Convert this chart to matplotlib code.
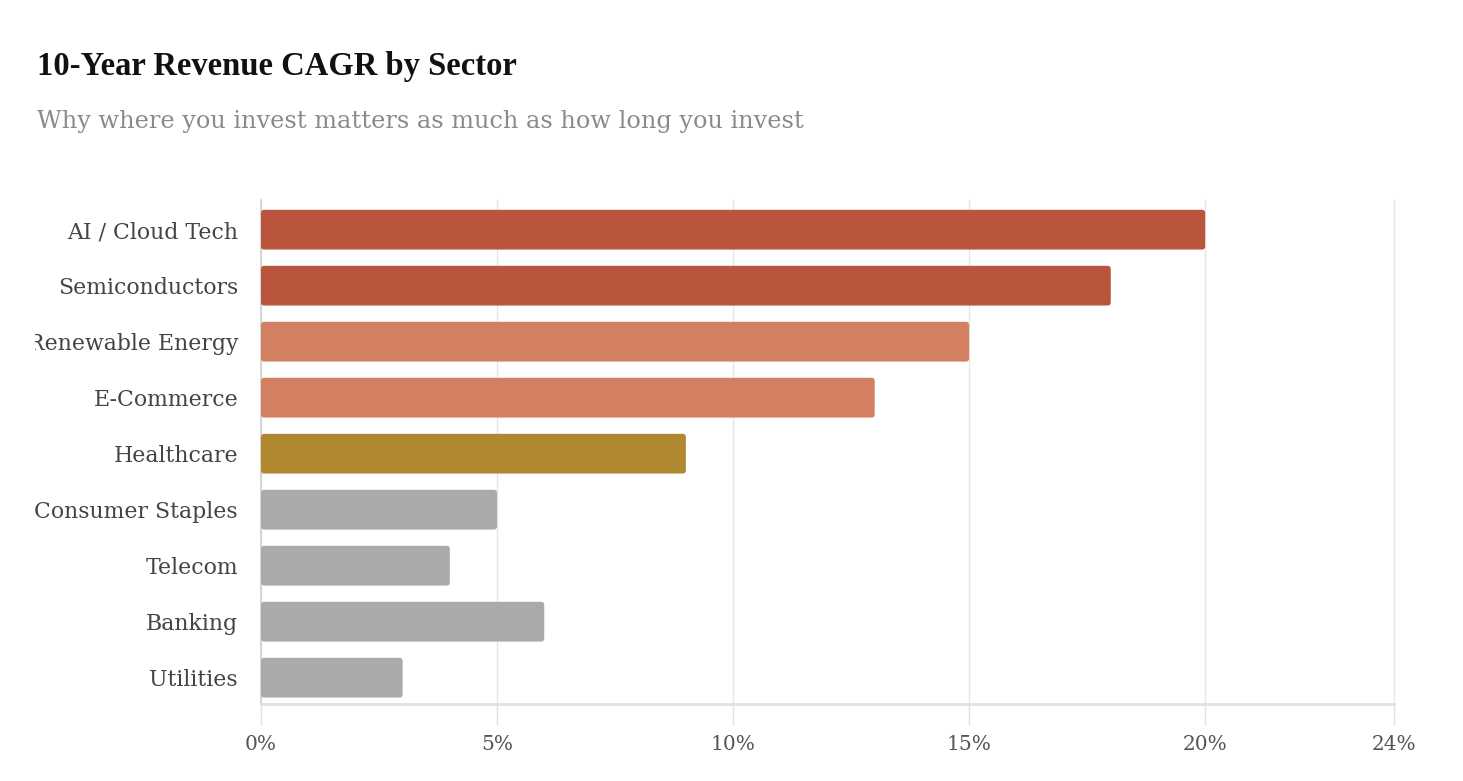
import matplotlib
matplotlib.use("Agg")
import matplotlib.pyplot as plt
from matplotlib.patches import FancyBboxPatch
from matplotlib.transforms import Bbox

# 섹터별 10년 매출 CAGR
sectors = ['AI / Cloud Tech', 'Semiconductors', 'Renewable Energy', 'E-Commerce',
           'Healthcare', 'Consumer Staples', 'Telecom', 'Banking', 'Utilities']
cagr = [20, 18, 15, 13, 9, 5, 4, 6, 3]
bar_colors = ['#B9553D', '#B9553D', '#D38062', '#D38062', '#B08830',
              '#AAAAAA', '#AAAAAA', '#AAAAAA', '#AAAAAA']
xticks = [0, 5, 10, 15, 20, 24]
xtick_labels = ['0%', '5%', '10%', '15%', '20%', '24%']

plt.rcParams['font.family'] = ['DejaVu Serif']

fig = plt.figure(figsize=(14.63, 7.81), dpi=100)
ax = fig.add_axes([261 / 1463, 1 - 704 / 781, (1394 - 261) / 1463, (704 - 200) / 781])

y = list(range(len(sectors)))
bh = 0.71
for yi, v, c in zip(y, cagr, bar_colors):
    p = FancyBboxPatch((0, yi - bh / 2 + 0.03), v, bh,
                       boxstyle='round,pad=0,rounding_size=0.07',
                       mutation_aspect=0.84, fc=c, ec='none', zorder=3)
    ax.add_patch(p)

ax.set_xlim(0, 24)
ax.set_ylim(len(sectors) - 0.5, -0.5)
ax.set_yticks([v + 0.03 for v in y])
ax.set_yticklabels(sectors, fontsize=15.8, color='#444444')
ax.set_xticks(xticks)
ax.set_xticklabels(xtick_labels, fontsize=14.5, color='#555555')
ax.tick_params(axis='y', length=0, pad=16.5)
ax.tick_params(axis='x', length=15, width=1, color='#E0E0E0', pad=7)

ax.grid(axis='x', color='#E6E6E6', linewidth=1, zorder=0)
for gl in ax.get_xgridlines():
    gl.set_clip_on(False)
for s in ['top', 'right']:
    ax.spines[s].set_visible(False)
ax.spines['left'].set_color('#D0D0D0')
ax.spines['left'].set_linewidth(1.2)
ax.spines['left'].set_bounds(-0.5, 8.5)
ax.spines['bottom'].set_color('#E0E0E0')
ax.spines['bottom'].set_linewidth(2)

# 왼쪽 레이블이 잘리는 부분 재현
clip = Bbox.from_extents(35, 0, 1463, 781)
for lab in ax.get_yticklabels():
    lab.set_clip_box(clip)
    lab.set_clip_on(True)

fig.text(37 / 1463, 1 - 75 / 781, '10-Year Revenue CAGR by Sector',
         fontsize=23.5, fontweight='bold', color='#111111', va='baseline',
         family='Liberation Serif')
fig.text(37 / 1463, 1 - 128 / 781, 'Why where you invest matters as much as how long you invest',
         fontsize=17.3, color='#8A8A8A', va='baseline')

fig.savefig('out.png', dpi=100)
